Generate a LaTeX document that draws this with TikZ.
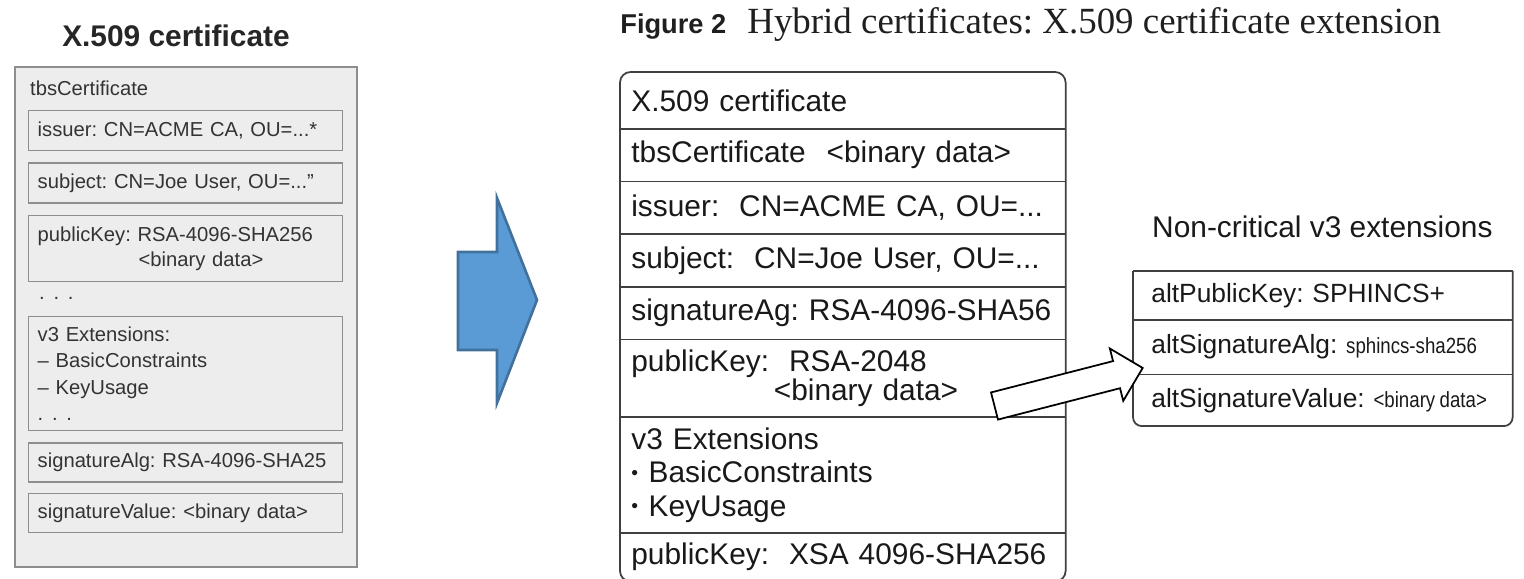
\documentclass[tikz,border=0pt]{standalone}
\usepackage{fontspec}
\setmainfont{Liberation Sans}
\newfontfamily\capserif{Liberation Serif}
\newfontfamily\condsans[FakeStretch=0.85]{Liberation Sans}
\usetikzlibrary{positioning}

\definecolor{boxgray}{HTML}{EDEDED}
\definecolor{linegray}{HTML}{8E8E8E}
\definecolor{textgray}{HTML}{333333}
\definecolor{arrowblue}{HTML}{5B9BD5}
\definecolor{arrowedge}{HTML}{41719C}

\newcommand{\smallbullet}{\raisebox{0.2ex}{\fontsize{11}{11}\selectfont•}\hspace{6pt}}

\begin{document}
\frenchspacing
\begin{tikzpicture}[x=0.02cm, y=-0.02cm, node distance=0.22cm,
  oldbox/.style={rectangle, draw=linegray, fill=boxgray, line width=0.8pt,
    inner xsep=0.18cm, inner ysep=0pt, text width=5.92cm, align=left,
    text=textgray, font=\fontsize{11.5}{15}\selectfont},
  row/.style={rectangle, inner xsep=0.22cm, inner ysep=0pt, text width=8.46cm,
    align=left, text=black!90, font=\fontsize{17}{19}\selectfont},
  altrow/.style={rectangle, inner xsep=0.36cm, inner ysep=0pt, text width=6.86cm,
    align=left, text=black!90, font=\fontsize{15}{17}\selectfont}]

\useasboundingbox (0,0) rectangle (1524,578);

% left: the plain certificate
\node[font=\fontsize{17}{20}\selectfont\bfseries, text=black!85] (oldtitle) at (176,36) {X.509 certificate};
\node[draw=linegray, fill=boxgray, line width=1pt, minimum width=6.84cm, minimum height=10cm,
  anchor=north west] (oldcert) at (14,66) {};
\node[anchor=west, text=textgray, font=\fontsize{11.5}{15}\selectfont] (otbs) at (24,88) {tbsCertificate};

\node[oldbox, minimum height=0.8cm, anchor=north west] (oissuer) at (28,110) {issuer: CN=ACME CA, OU=...*};
\node[oldbox, minimum height=0.8cm, below=of oissuer] (osubject) {subject: CN=Joe User, OU=...”};
\node[oldbox, minimum height=1.32cm, below=of osubject] (opubkey)
  {publicKey: RSA-4096-SHA256\\[-1pt]\hspace*{2.02cm}<binary data>};
\node[anchor=west, text=textgray, font=\fontsize{11.5}{15}\selectfont] (odots) at (33,298) {.\hspace{5pt}.\hspace{5pt}.};
\node[oldbox, minimum height=2.28cm, anchor=north west] (oext) at (28,316)
  {v3 Extensions:\\– BasicConstraints\\– KeyUsage\\.\hspace{5pt}.\hspace{5pt}.};
\node[oldbox, minimum height=0.78cm, below=of oext] (osigalg) {signatureAlg: RSA-4096-SHA25};
\node[oldbox, minimum height=0.78cm, below=0.2cm of osigalg] (osigval) {signatureValue: <binary data>};

% big blue arrow
\draw[fill=arrowblue, draw=arrowedge, line width=1.5pt]
  (458,252) -- (497,252) -- (497,198) -- (537,300) -- (497,403) -- (497,350) -- (458,350) -- cycle;

% right: the hybrid certificate
\node[anchor=west, inner sep=0pt, text=black!88] (caption) at (620,24)
  {\fontsize{15.5}{18}\selectfont\bfseries Figure 2\hspace{12pt}\capserif\mdseries\fontsize{21}{24}\selectfont Hybrid certificates: X.509 certificate extension};

\node[row, minimum height=1.12cm, anchor=north west] (xcert) at (620,72) {X.509 certificate};
\node[row, minimum height=1.04cm, below=0pt of xcert] (tbscert) {tbsCertificate\hspace{12pt}<binary data>};
\node[row, minimum height=1.04cm, below=0pt of tbscert] (issuer) {issuer:\ \ CN=ACME CA, OU=...};
\node[row, minimum height=1.04cm, below=0pt of issuer] (subject) {subject:\ \ CN=Joe User, OU=...};
\node[row, minimum height=1.04cm, below=0pt of subject] (sigalg) {signatureAg: RSA-4096-SHA56};
\node[row, minimum height=1.54cm, below=0pt of sigalg] (pubkey)
  {publicKey:\ \ RSA-2048\\[-2pt]\hspace*{2.85cm}<binary data>};
\node[row, minimum height=2.3cm, below=0pt of pubkey] (vext)
  {v3 Extensions\\\smallbullet BasicConstraints\\\smallbullet KeyUsage};
\node[row, minimum height=0.96cm, below=0pt of vext] (xsa) {publicKey:\ \ XSA 4096-SHA256};

\draw[line width=1pt, draw=black!75, rounded corners=6pt] (xcert.north west) rectangle (xsa.south east);
\foreach \r in {tbscert,issuer,subject,sigalg,pubkey,vext,xsa}
  \draw[line width=1pt, draw=black!75] (\r.north west) -- (\r.north east);

% the extensions
\node[anchor=west, text=black!90, font=\fontsize{17}{19}\selectfont] (noncrit) at (1146,227) {Non-critical v3 extensions};
\node[altrow, minimum height=0.96cm, anchor=north west] (altpub) at (1133,271) {altPublicKey: SPHINCS+};
\node[altrow, minimum height=1.08cm, below=0pt of altpub] (altalg)
  {altSignatureAlg: {\condsans\fontsize{12.5}{13}\selectfont sphincs-sha256}};
\node[altrow, minimum height=1.02cm, below=0pt of altalg] (altval)
  {altSignatureValue: {\condsans\fontsize{12.5}{13}\selectfont <binary\hspace{2.5pt}data>}};

\draw[line width=1pt, draw=black!75] (altpub.north west) -- (altpub.north east);
\draw[line width=1pt, draw=black!75, rounded corners=5pt]
  (altpub.north east) -- (altval.south east) -- (altval.south west) -- (altpub.north west);
\foreach \r in {altalg,altval}
  \draw[line width=1pt, draw=black!75] (\r.north west) -- (\r.north east);

% white arrow into the extensions
\begin{scope}[shift={(994.5,406)}, rotate=14.4]
  \draw[fill=white, line width=1pt]
    (0,-14) -- (126,-14) -- (126,-27) -- (153,0) -- (126,27) -- (126,14) -- (0,14) -- cycle;
\end{scope}
\end{tikzpicture}
\end{document}
